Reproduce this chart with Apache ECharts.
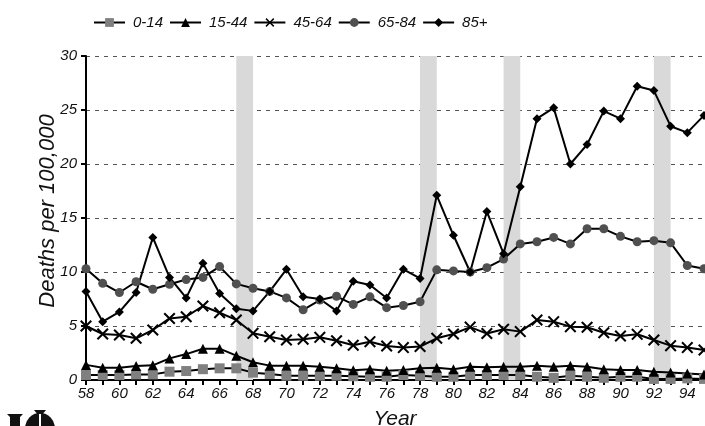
<!DOCTYPE html>
<html>
<head>
<meta charset="utf-8">
<script src="https://cdn.jsdelivr.net/npm/echarts@6/dist/echarts.min.js"></script>
<style>html,body{margin:0;padding:0;background:#fff}#c{width:705px;height:426px}</style>
</head>
<body>
<div id="c"></div>
<script>
var years = [58,59,60,61,62,63,64,65,66,67,68,69,70,71,72,73,74,75,76,77,78,79,80,81,82,83,84,85,86,87,88,89,90,91,92,93,94,95];
var age0_14 = [0.46,0.46,0.46,0.52,0.52,0.77,0.83,1.0,1.08,1.08,0.68,0.55,0.4,0.4,0.4,0.4,0.35,0.3,0.3,0.46,0.4,0.3,0.3,0.46,0.46,0.46,0.46,0.3,0.2,0.4,0.3,0.2,0.3,0.3,0.1,0.1,0.15,0.1];
var age15_44 = [1.4,1.14,1.14,1.3,1.36,2.0,2.4,2.9,2.9,2.25,1.64,1.33,1.33,1.33,1.23,1.08,0.9,1.0,0.86,0.93,1.08,1.14,1.0,1.23,1.17,1.23,1.23,1.33,1.23,1.33,1.23,1.0,0.93,0.93,0.77,0.7,0.6,0.5];
var age45_64 = [5.0,4.26,4.17,3.86,4.63,5.7,5.86,6.85,6.23,5.56,4.32,4.0,3.7,3.77,3.95,3.64,3.22,3.55,3.15,3.0,3.1,3.86,4.26,4.9,4.3,4.7,4.48,5.55,5.4,4.94,4.88,4.38,4.07,4.23,3.7,3.18,3.0,2.78];
var age65_84 = [10.3,8.95,8.1,9.1,8.4,8.86,9.3,9.5,10.5,8.9,8.5,8.2,7.6,6.5,7.4,7.75,7.0,7.7,6.7,6.9,7.25,10.2,10.1,10.0,10.4,11.2,12.6,12.8,13.2,12.6,14.0,14.0,13.3,12.8,12.9,12.7,10.6,10.3];
var age85p = [8.2,5.4,6.3,8.1,13.2,9.5,7.6,10.8,8.0,6.6,6.4,8.2,10.25,7.7,7.5,6.4,9.15,8.8,7.6,10.25,9.4,17.1,13.4,10.0,15.6,11.7,17.9,24.2,25.2,20.0,21.8,24.9,24.2,27.2,26.8,23.5,22.9,24.5];
var shadedPeriods = [[67,68],[78,79],[83,84],[92,93]];
var seriesNames = ['0-14','15-44','45-64','65-84','85+'];
var yTicks = [0,5,10,15,20,25,30];

function pairs(vals){ return years.map(function(y,i){ return [y, vals[i]]; }); }
var font = 'Liberation Sans, Arial, Helvetica, sans-serif';
var crossPath = 'path://M0,1.2 L1.2,0 L5,3.8 L8.8,0 L10,1.2 L6.2,5 L10,8.8 L8.8,10 L5,6.2 L1.2,10 L0,8.8 L3.8,5 Z';

function mk(name, vals, symbol, size, color){
  return {
    name: name, type: 'line', data: pairs(vals),
    symbol: symbol, symbolSize: size, showSymbol: true,
    lineStyle: {color: '#000', width: 2},
    itemStyle: {color: color, borderWidth: 0},
    emphasis: {disabled: true}, animation: false, z: 3
  };
}

var chart = echarts.init(document.getElementById('c'), null, {renderer: 'canvas'});
chart.setOption({
  animation: false,
  backgroundColor: '#fff',
  textStyle: {fontFamily: font},
  legend: {
    data: seriesNames,
    left: 88, top: 10,
    itemWidth: 31, itemHeight: 11, itemGap: 6,
    textStyle: {fontFamily: font, fontStyle: 'italic', fontSize: 15, color: '#111', padding: [0,0,0,3]}
  },
  grid: {left: 86, right: 1, top: 56, bottom: 46, containLabel: false, outerBoundsMode: 'none'},
  xAxis: {
    type: 'value', min: 58, max: 95, interval: 1,
    name: 'Year', nameLocation: 'middle', nameGap: 29, nameMoveOverlap: false,
    nameTextStyle: {fontFamily: font, fontStyle: 'italic', fontSize: 21, color: '#111'},
    axisLine: {show: true, onZero: false, lineStyle: {color: '#000', width: 2}},
    axisTick: {show: true, length: 5, lineStyle: {color: '#000', width: 2}},
    axisLabel: {
      fontFamily: font, fontStyle: 'italic', fontSize: 15, color: '#111', margin: 6,
      showMaxLabel: false,
      formatter: function(v){ return (v % 2 === 0) ? String(v) : ''; }
    },
    splitLine: {show: false}
  },
  yAxis: {
    type: 'value', min: 0, max: 30, interval: 5,
    name: 'Deaths per 100,000', nameLocation: 'middle', nameGap: 27, nameRotate: 90, nameMoveOverlap: false,
    nameTextStyle: {fontFamily: font, fontStyle: 'italic', fontSize: 22, color: '#111', padding: [0,0,0,14]},
    axisLine: {show: true, lineStyle: {color: '#000', width: 2}},
    axisTick: {show: true, length: 5, lineStyle: {color: '#000', width: 2}},
    axisLabel: {fontFamily: font, fontStyle: 'italic', fontSize: 15, color: '#111', margin: 9,
      formatter: function(v){ return yTicks.indexOf(v) >= 0 ? String(v) : ''; }},
    splitLine: {show: true, lineStyle: {color: '#555', width: 1, type: [4,5]}}
  },
  series: [
    {
      name: 'bands', type: 'line', data: [], silent: true, z: 1,
      markArea: {
        silent: true,
        itemStyle: {color: '#d9d9d9'},
        data: shadedPeriods.map(function(p){ return [{xAxis: p[0]}, {xAxis: p[1]}]; })
      }
    },
    mk('0-14', age0_14, 'rect', 10, '#808080'),
    mk('15-44', age15_44, 'triangle', 10, '#000'),
    mk('45-64', age45_64, crossPath, 12, '#000'),
    mk('65-84', age65_84, 'circle', 9, '#505050'),
    mk('85+', age85p, 'diamond', 9, '#000')
  ],
  graphic: [
    {type: 'group', left: 7, top: 410, children: [
      {type: 'polygon', shape: {points: [[0,4],[16,4],[13,7],[13,16],[3,16],[3,7]]}, style: {fill: '#111'}},
      {type: 'sector', shape: {cx: 33, cy: 18, r0: 0, r: 15, startAngle: Math.PI, endAngle: 2*Math.PI}, style: {fill: '#111'}},
      {type: 'polygon', shape: {points: [[27,0],[39,0],[35,5],[31,5]]}, style: {fill: '#111'}},
      {type: 'rect', shape: {x: 32, y: 4, width: 2, height: 14}, style: {fill: '#fff'}}
    ]}
  ]
});
</script>
</body>
</html>
